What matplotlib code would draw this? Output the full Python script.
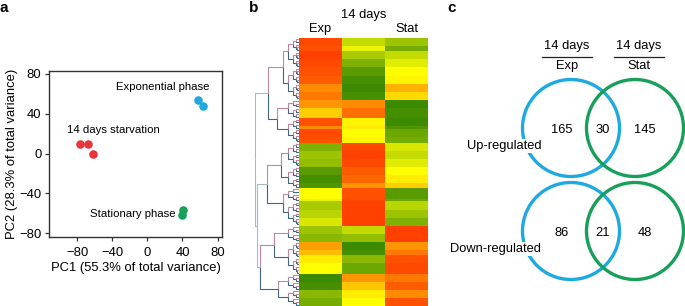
import numpy as np
import matplotlib
matplotlib.use("Agg")
import matplotlib.pyplot as plt
from matplotlib.colors import LinearSegmentedColormap
from matplotlib.patches import Circle

plt.rcParams['font.family'] = ['Liberation Sans', 'DejaVu Sans']

W, H = 685, 306

# === a: PCA ===
pc1_starv = [-77, -68, -62]
pc2_starv = [10, 10, -1]
pc1_exp = [58, 63]
pc2_exp = [54, 48]
pc1_stat = [41, 40]
pc2_stat = [-57, -62]
pca_ticks = [-80, -40, 0, 40, 80]

# === b: heatmap blocks (row count, Exp, 14 days, Stat) -1 green / 0 yellow / 1 red ===
block_rows = [3, 2, 3, 3, 3, 3, 3, 3,
              3, 4, 3, 1, 3, 2,
              3, 3, 3, 3, 3, 2,
              4, 1, 3, 3, 3,
              3, 3, 3, 2, 3, 4,
              3, 3, 3, 3]
exp_vals = [.95, .9, 1.0, .95, .9, .85, .6, .7,
            .55, .25, .9, .6, .95, .9,
            -.65, -.5, -.55, -.85, -.95, -.9,
            0.0, -.1, -.45, -.35, -.2,
            -.5, -.6, .5, .35, .1, 0.0,
            -1.0, -.95, -.6, -.7]
d14_vals = [-.3, -.1, -.45, -.65, -.85, -.95, -1.0, -.95,
            .6, .75, .05, .1, 0.0, .05,
            .95, 1.0, .95, .85, .8, .55,
            .9, .95, 1.0, 1.0, 1.0,
            -.3, -.55, -1.0, -.95, -.6, -.75,
            .55, .3, .1, 0.0]
stat_vals = [-.5, -.7, -.3, -.15, 0.0, .05, .4, .2,
             -1.0, -.95, -1.0, -.9, -.75, -.7,
             -.2, -.3, -.15, 0.0, .1, .25,
             -.85, -.75, -.35, -.5, -.65,
             1.0, 1.0, .55, .7, .9, .95,
             .7, .85, .6, .9]
col_labels = ["Exp", "14 days", "Stat"]

# dendrogram: (height, upper, lower); int = leaf count of a sub-cluster
tree = (1.0,
        (0.70, (0.37, 11, 12), (0.51, 7, 9)),
        (0.97, (0.72, (0.42, 9, 8), (0.37, 5, 9)),
               (0.88, (0.58, 6, 12), (0.47, 6, 6))))
SUB_H = 0.24

# === c: Venn ===
venn_rows = ["Up-regulated", "Down-regulated"]
only_exp = [165, 86]
shared = [30, 21]
only_stat = [145, 48]

RED, BLUE, GREEN = '#e8343a', '#1fa9e1', '#16a05a'

fig = plt.figure(figsize=(W / 100, H / 100), dpi=100)


def fx(px):
    return px / W


def fy(py):
    return 1 - py / H


# ---------- panel a ----------
ax = fig.add_axes([fx(49), fy(237), fx(173), 166 / H])
ax.scatter(pc1_starv, pc2_starv, s=38, color=RED, lw=0, zorder=3)
ax.scatter(pc1_exp, pc2_exp, s=38, color=BLUE, lw=0, zorder=3)
ax.scatter(pc1_stat, pc2_stat, s=38, color=GREEN, lw=0, zorder=3)
ax.set_xlim(-112, 85)
ax.set_ylim(-84, 83)
ax.set_xticks(pca_ticks)
ax.set_yticks(pca_ticks)
ax.tick_params(labelsize=9.4, length=3, width=0.9, color='#333333')
ax.tick_params(axis='x', pad=4)
ax.tick_params(axis='y', pad=2.5)
for sp in ax.spines.values():
    sp.set_color('#333333')
    sp.set_linewidth(1.0)
ax.set_xlabel("PC1 (55.3% of total variance)", fontsize=9.4, labelpad=2)
ax.set_ylabel("PC2 (28.3% of total variance)", fontsize=9.4, labelpad=1)
ax.text(71, 67, "Exponential phase", fontsize=8.2, ha='right', va='center')
ax.text(-91, 24, "14 days starvation", fontsize=8.2, ha='left', va='center')
ax.text(32, -61, "Stationary phase", fontsize=8.2, ha='right', va='center')

# ---------- panel b ----------
cmap = LinearSegmentedColormap.from_list("gyr", ['#3c8a00', '#ffff00', '#ff4000'])
heat = np.column_stack([np.repeat(exp_vals, block_rows),
                        np.repeat(d14_vals, block_rows),
                        np.repeat(stat_vals, block_rows)])
n_rows = heat.shape[0]

axh = fig.add_axes([fx(299), 0, fx(129), 268 / H])
axh.imshow(heat, cmap=cmap, vmin=-1, vmax=1, aspect='auto',
           interpolation='nearest')
axh.set_ylim(n_rows - 0.5, -0.5)
axh.set_axis_off()
for i, lab in enumerate(col_labels):
    yy = 1.086 if i == 1 else 1.034
    axh.text(i, yy, lab, fontsize=9.3, ha='center', va='center',
             transform=axh.get_xaxis_transform())

axd = fig.add_axes([fx(253), 0, fx(46), 268 / H])
axd.set_xlim(1.05, 0)
axd.set_ylim(n_rows - 0.5, -0.5)
axd.set_axis_off()

PINK, SLATE, LIGHT = '#c4869f', '#3f6688', '#9fbccb'


def link(yu, hu, yl, hl, h):
    mid = (yu + yl) / 2
    cu = LIGHT if h > 0.9 else PINK
    cl = LIGHT if h > 0.9 else SLATE
    axd.plot([hu, h, h], [yu, yu, mid], color=cu, lw=0.8, solid_capstyle='butt')
    axd.plot([hl, h, h], [yl, yl, mid], color=cl, lw=0.8, solid_capstyle='butt')


def balanced(n, start, h):
    if n == 1:
        return start, 0.0, start + 1
    k = n // 2
    yu, hu, s = balanced(k, start, h * 0.55)
    yl, hl, s = balanced(n - k, s, h * 0.55)
    link(yu, hu, yl, hl, h)
    return (yu + yl) / 2, h, s


def build(node, start):
    if isinstance(node, int):
        return balanced(node, start, SUB_H)
    h, up, lo = node
    yu, hu, s = build(up, start)
    yl, hl, s = build(lo, s)
    link(yu, hu, yl, hl, h)
    return (yu + yl) / 2, h, s


build(tree, 0)

# ---------- panel c ----------
axc = fig.add_axes([fx(440), 0, fx(245), 1])
axc.set_xlim(440, 685)
axc.set_ylim(306, 0)
axc.set_axis_off()

R = 48.5
cx_exp, cx_stat = 571, 635
row_y = [128, 231]
for i, lab in enumerate(venn_rows):
    cy = row_y[i]
    axc.add_patch(Circle((cx_exp, cy), R, fill=False, ec=BLUE, lw=2.4,
                         clip_on=False, zorder=2))
    axc.add_patch(Circle((cx_stat, cy), R, fill=False, ec=GREEN, lw=2.4,
                         clip_on=False, zorder=2))
    axc.text(cx_exp - 9, cy + 2, str(only_exp[i]), fontsize=9.3, ha='center', va='center')
    axc.text((cx_exp + cx_stat) / 2, cy + 2, str(shared[i]), fontsize=9.3,
             ha='center', va='center')
    axc.text(cx_stat + 10, cy + 2, str(only_stat[i]), fontsize=9.3,
             ha='center', va='center')
    axc.text(541, cy + 18, lab, fontsize=9.3, ha='right', va='center', zorder=4,
             bbox=dict(fc='white', ec='none', pad=0.5))

for cx, lab in [(567, "Exp"), (639, "Stat")]:
    axc.text(cx, 46, "14 days", fontsize=9.3, ha='center', va='center')
    axc.plot([cx - 25, cx + 25], [57, 57], color='#222222', lw=0.9)
    axc.text(cx, 66, lab, fontsize=9.3, ha='center', va='center')

# panel letters
for px, lab in [(4, "a"), (254, "b"), (452, "c")]:
    fig.text(fx(px), fy(8), lab, fontsize=11, fontweight='bold',
             ha='center', va='center')

fig.savefig("out.png", dpi=100)
